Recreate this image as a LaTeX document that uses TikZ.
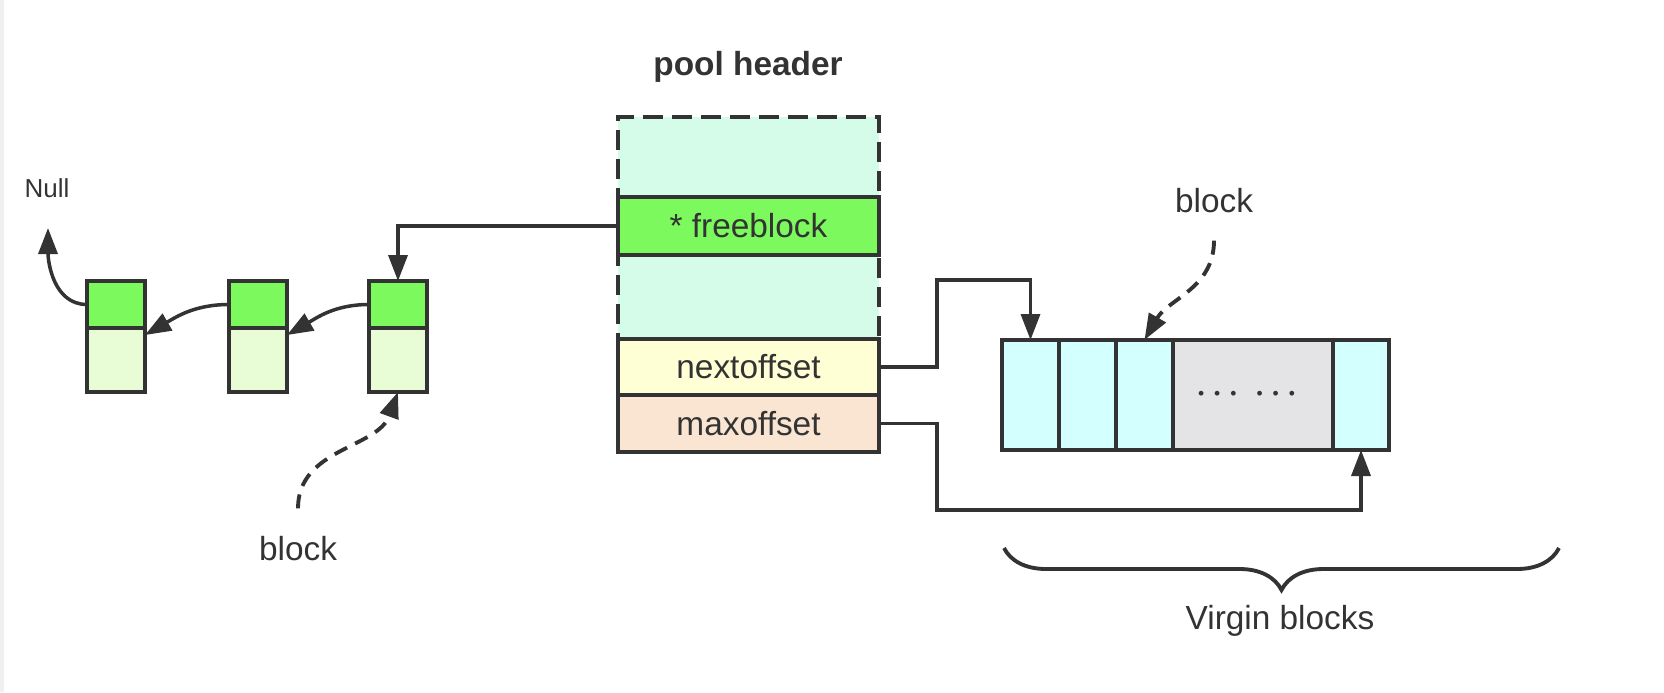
\documentclass[tikz,border=0pt]{standalone}
\usepackage{fontspec}
\setmainfont{Liberation Sans}
\usepackage{xcolor}
\usetikzlibrary{arrows.meta,positioning,decorations.pathreplacing}
\definecolor{ink}{HTML}{333333}
\definecolor{headgreen}{HTML}{7CF95C}
\definecolor{bodygreen}{HTML}{E8FCD5}
\definecolor{mint}{HTML}{D5FCE9}
\definecolor{softyellow}{HTML}{FFFFD6}
\definecolor{peach}{HTML}{F9E5D2}
\definecolor{softcyan}{HTML}{D4FFFF}
\definecolor{unused}{HTML}{E4E4E6}
\begin{document}
\begin{tikzpicture}[
  x=0.1mm,y=-0.1mm,
  every node/.style={text=ink,font=\fontsize{9.5}{11}\selectfont},
  cell/.style={draw=ink,line width=1.1pt,inner sep=0pt,outer sep=0pt},
  row/.style={cell,minimum width=26.1mm},
  vcell/.style={cell,fill=softcyan,minimum width=5.7mm,minimum height=11mm},
  arrow/.style={draw=ink,line width=1pt,-{Triangle[length=2.6mm,width=1.9mm]}},
  dashcurve/.style={line width=1.1pt,dash pattern=on 1.4mm off 0.9mm}
]
\useasboundingbox (0,0) rectangle (1664,692);
\fill[gray!12] (0,0) rectangle (4,692);

% free list
\foreach \i/\x in {1/116,2/258,3/398}{
  \node[cell,fill=headgreen,minimum width=5.8mm,minimum height=4.7mm] (blk\i-head) at (\x,304.5) {};
  \node[cell,fill=bodygreen,minimum width=5.8mm,minimum height=6.4mm,below=0pt of blk\i-head] (blk\i-body) {};
}
\node[font=\fontsize{7.4}{9}\selectfont] (null) at (47,188) {Null};
\coordinate (nullend) at (48,228);
\node (lblA) at (298,549) {block};

% pool header
\node[font=\fontsize{9.5}{11}\selectfont\bfseries] (title) at (748,67) {pool header};
\node[cell,dash pattern=on 2mm off 0.9mm,fill=mint,minimum width=26.1mm,minimum height=33.5mm] (hdr) at (748.5,284.5) {};
\node[row,fill=headgreen,minimum height=5.8mm] (free) at (748.5,226) {* freeblock};
\node[row,fill=softyellow,minimum height=5.6mm] (next) at (748.5,367) {nextoffset};
\node[row,fill=peach,minimum height=5.7mm,below=0pt of next] (max) {maxoffset};

% virgin blocks
\node[vcell] (v1) at (1030.5,395) {};
\node[vcell,right=0pt of v1] (v2) {};
\node[vcell,right=0pt of v2] (v3) {};
\node[vcell,fill=unused,minimum width=16mm,right=0pt of v3] (v4) {\hspace{-1.3mm}\fontsize{5}{6}\selectfont•\hspace{1mm}•\hspace{1mm}•\hspace{2mm}•\hspace{1mm}•\hspace{1mm}•};
\node[vcell,minimum width=5.6mm,right=0pt of v4] (v5) {};
\node (lblB) at (1214,201) {block};
\node (virgin) at (1280,621) {Virgin blocks};

\draw[arrow] (blk1-head.west) to[out=180,in=-90] (nullend);
\draw[arrow] (blk2-head.west) to[out=180,in=30] ([yshift=2.5mm]blk1-body.east);
\draw[arrow] (blk3-head.west) to[out=180,in=30] ([yshift=2.5mm]blk2-body.east);
\draw[arrow] (free.west) -| (blk3-head.north);
\draw[arrow,dashcurve] ([yshift=1.6mm]lblA.north) to[out=90,in=-110] (blk3-body.south);
\draw[arrow] (next.east) -- ++(58,0) |- ([yshift=6mm]v1.north) -- (v1.north);
\draw[arrow] (max.east) -- ++(58,0) |- ([yshift=-6mm]v5.south) -- (v5.south);
\draw[arrow,dashcurve] ([yshift=-1.5mm]lblB.south) to[out=-90,in=60] (v3.north);
\draw[ink,line width=1.1pt,decorate,decoration={brace,mirror,amplitude=4.2mm}] (1004,548) -- (1559,548);
\end{tikzpicture}
\end{document}
